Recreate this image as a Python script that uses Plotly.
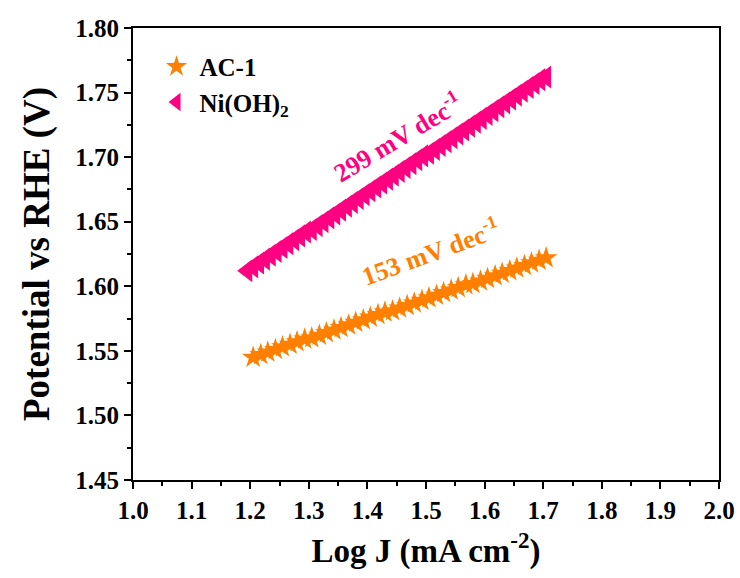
import plotly.graph_objects as go

ac_x = [1.205,1.218,1.230,1.243,1.255,1.268,1.280,1.293,1.305,1.318,1.330,1.343,1.355,1.368,1.380,
        1.393,1.405,1.418,1.430,1.443,1.455,1.468,1.480,1.493,1.505,1.518,1.530,1.543,1.555,1.568,
        1.580,1.593,1.605,1.618,1.630,1.643,1.655,1.668,1.680,1.693,1.705]
ac_y = [1.545,1.547,1.549,1.551,1.553,1.555,1.557,1.559,1.560,1.562,1.564,1.566,1.568,1.570,1.572,
        1.574,1.576,1.578,1.580,1.581,1.583,1.585,1.587,1.589,1.591,1.593,1.595,1.597,1.599,1.601,
        1.602,1.604,1.606,1.608,1.610,1.612,1.614,1.616,1.618,1.620,1.622]

ni_x = [1.195,1.205,1.215,1.225,1.235,1.245,1.255,1.265,1.275,1.285,1.295,1.305,1.315,1.325,1.335,
        1.345,1.355,1.365,1.375,1.385,1.395,1.405,1.415,1.425,1.435,1.445,1.455,1.465,1.475,1.485,
        1.495,1.505,1.515,1.525,1.535,1.545,1.555,1.565,1.575,1.585,1.595,1.605,1.615,1.625,1.635,
        1.645,1.655,1.665,1.675,1.685,1.695,1.705]
ni_y = [1.612,1.615,1.618,1.621,1.624,1.627,1.630,1.633,1.636,1.639,1.642,1.644,1.647,1.650,1.653,
        1.656,1.659,1.662,1.665,1.668,1.671,1.674,1.677,1.680,1.683,1.686,1.689,1.692,1.695,1.698,
        1.701,1.703,1.706,1.709,1.712,1.715,1.718,1.721,1.724,1.727,1.730,1.733,1.736,1.739,1.742,
        1.745,1.748,1.751,1.754,1.757,1.760,1.762]

x_ticks = [1.0,1.1,1.2,1.3,1.4,1.5,1.6,1.7,1.8,1.9,2.0]
y_ticks = [1.45,1.50,1.55,1.60,1.65,1.70,1.75,1.80]

ORANGE = "#FF8000"
PINK = "#FF0080"
FONT = "Liberation Serif"

fig = go.Figure()
fig.add_trace(go.Scatter(x=ac_x, y=ac_y, mode="markers", name="<b>AC-1</b>",
                         marker=dict(symbol="star", size=17, color=ORANGE, line=dict(width=0))))
fig.add_trace(go.Scatter(x=ni_x, y=ni_y, mode="markers", name="<b>Ni(OH)<sub>2</sub></b>",
                         marker=dict(symbol="triangle-left", size=20, color=PINK, line=dict(width=0))))

axis_common = dict(
    showline=True, linecolor="black", linewidth=2, mirror=True, automargin=False,
    ticks="outside", ticklen=7, tickwidth=1.5, tickcolor="black",
    showgrid=False, zeroline=False,
    tickfont=dict(family=FONT, size=25, color="black"),
    minor=dict(ticks="outside", ticklen=4, tickwidth=1.5, tickcolor="black", showgrid=False),
)

fig.update_xaxes(range=[1.0, 2.0], tickvals=x_ticks,
                 ticktext=[f"<b>{v:.1f}</b>" for v in x_ticks],
                 minor_dtick=0.05,
                 title=dict(text="<b>Log J (mA cm<sup>-2</sup>)</b>",
                            font=dict(family=FONT, size=33, color="black"), standoff=16),
                 **axis_common)
fig.update_yaxes(range=[1.45, 1.80], tickvals=y_ticks,
                 ticktext=[f"<b>{v:.2f}</b>" for v in y_ticks],
                 minor_dtick=0.025,
                 title=dict(text="<b>Potential vs RHE (V)</b>",
                            font=dict(family=FONT, size=37, color="black"), standoff=14),
                 **axis_common)

fig.add_annotation(x=1.452, y=1.716, xref="x", yref="y", text="<b>299 mV dec<sup>-1</sup></b>",
                   showarrow=False, textangle=-31, font=dict(family=FONT, size=26, color=PINK))
fig.add_annotation(x=1.507, y=1.627, xref="x", yref="y", text="<b>153 mV dec<sup>-1</sup></b>",
                   showarrow=False, textangle=-20, font=dict(family=FONT, size=26, color=ORANGE))

fig.update_layout(
    width=740, height=578,
    margin=dict(l=133, r=21, t=28, b=98),
    paper_bgcolor="white", plot_bgcolor="white",
    showlegend=True,
    legend=dict(x=0.035, y=0.965, xanchor="left", yanchor="top",
                bgcolor="rgba(0,0,0,0)", font=dict(family=FONT, size=25, color="black"),
                itemsizing="trace", itemwidth=36, tracegroupgap=0),
)

fig.write_html("out.html")
